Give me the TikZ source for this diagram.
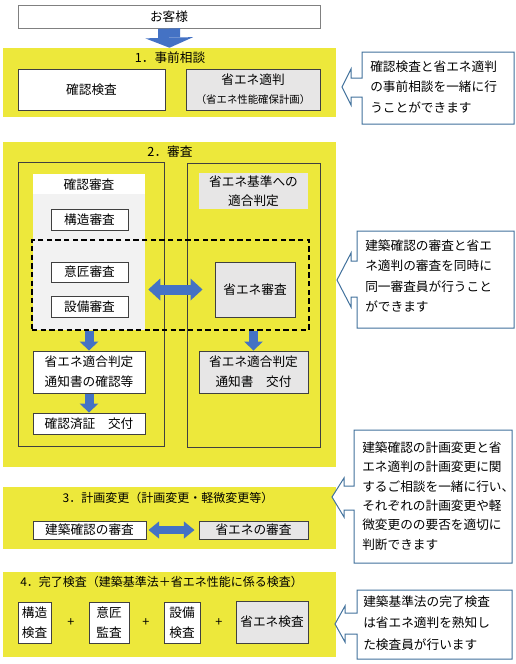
\documentclass[tikz,border=0pt]{standalone}
\usepackage{fontspec}
\setmainfont{Noto Sans CJK JP}
\usepackage{tikz}
\usetikzlibrary{arrows.meta,calc,positioning}

\definecolor{panelyellow}{RGB}{237,232,59}
\definecolor{arrowblue}{RGB}{68,114,196}
\definecolor{calloutblue}{RGB}{65,113,156}
\definecolor{boxgray}{RGB}{231,230,230}
\definecolor{zonegray}{RGB}{242,242,242}
\definecolor{edgegray}{RGB}{64,64,64}

\newcommand{\jpfont}{\fontsize{9.5}{15}\selectfont}

\tikzset{
  sz/.style 2 args={minimum width=#1*0.75pt, minimum height=#2*0.75pt},
  panel/.style={fill=panelyellow, inner sep=0pt},
  whitebox/.style={draw=edgegray, line width=0.75pt, fill=white, inner sep=0pt, align=center, font=\jpfont},
  graybox/.style={whitebox, fill=boxgray},
  title/.style={font=\jpfont, inner sep=0pt},
  note/.style={font=\fontsize{9.5}{15.4}\selectfont, align=left, inner sep=0pt, anchor=west},
  callout/.style={draw=calloutblue, line width=0.75pt, fill=white, line join=miter},
  grp/.style={draw=black, line width=1.1pt, dash pattern=on 4pt off 2.5pt, inner sep=0pt},
  downarrow/.style={draw=arrowblue, line width=6.75pt, -{Triangle[width=14.25pt, length=6.75pt, line width=0pt]}},
}

\begin{document}
\begin{tikzpicture}[x=0.75pt, y=-0.75pt]
\useasboundingbox (0,0) rectangle (516,664);

% customer
\node[whitebox, draw=gray, sz={302}{23}] (cust) at (169,16.5) {お客様};

% 1. prior consultation
\node[panel, sz={333}{69}] (p1) at (169.5,82.5) {};
\node[title] (t1) at (170,58) {1．事前相談};
\node[whitebox, sz={147}{41}] (kakunin) at (91.5,89.5) {確認検査};
\node[graybox, sz={134}{41}] (tekihan) at (253,89.5)
  {省エネ適判\\[-1pt]{\fontsize{7.8}{9}\selectfont （省エネ性能確保計画）}};
\draw[arrowblue, line width=16.5pt, -{Triangle[width=36pt, length=7.5pt, line width=0pt]}]
  (cust.south) -- (p1.north);

\draw[callout] (362,52) -- (514,52) -- (514,124) -- (362,124) -- (362,97) -- (351,97)
  -- (351,105) -- (342,87) -- (351,69) -- (351,78) -- (362,78) -- cycle;
\node[note] (c1) at (370,87) {確認検査と省エネ適判\\の事前相談を一緒に行\\うことができます};

% 2. review
\node[panel, sz={333}{325}] (p2) at (169.5,304.5) {};
\node[title] (t2) at (170,152) {2．審査};
\node[draw=edgegray, line width=0.75pt, sz={146}{284}] (lbox) at (91,304) {};
\node[draw=edgegray, line width=0.75pt, sz={133}{284}] (rbox) at (253.5,305) {};
\node[fill=white, font=\jpfont, sz={112}{19}] (khead) at (89,184.5) {確認審査};
\node[fill=zonegray, sz={112}{136}] (kzone) at (89,262) {};
\node[whitebox, sz={77}{21}] (kozo) at (89.5,219.5) {構造審査};
\node[fill=boxgray, font=\jpfont, align=center, inner sep=0pt, sz={109}{36}] (kijun) at (253.5,191)
  {省エネ基準への\\[-1pt]適合判定};
\node[grp, sz={277}{90}] (dashbox) at (170.5,285) {};
\node[whitebox, sz={77}{20}] (isho) at (89.5,272) {意匠審査};
\node[whitebox, sz={77}{21}] (setsubi) at (89.5,306.5) {設備審査};
\node[graybox, sz={80}{55}] (shoene) at (255,289.5) {省エネ審査};
\node[whitebox, sz={112}{42}] (tsuchi) at (89,372) {省エネ適合判定\\通知書の確認等};
\node[whitebox, sz={112}{21}] (kenzumi) at (89,423.5) {確認済証　交付};
\node[graybox, sz={109}{42}] (rtsuchi) at (253.5,372) {省エネ適合判定\\通知書　交付};

\draw[downarrow] (tsuchi.north |- dashbox.south) -- (tsuchi.north);
\draw[downarrow] (rtsuchi.north |- dashbox.south) -- (rtsuchi.north);
\draw[downarrow] (tsuchi.south) -- (kenzumi.north);
\draw[arrowblue, line width=7.5pt,
  {Triangle[width=16.5pt, length=9pt, line width=0pt]}-{Triangle[width=16.5pt, length=9pt, line width=0pt]}]
  ($(kzone.east |- shoene.west)+(3,0)$) -- ($(shoene.west)+(-12,0)$);

\draw[callout] (357,231) -- (514,231) -- (514,328) -- (357,328) -- (357,297) -- (351,297)
  -- (351,307) -- (337,280) -- (351,253) -- (351,261) -- (357,261) -- cycle;
\node[note] (c2) at (365,276) {建築確認の審査と省エ\\ネ適判の審査を同時に\\同一審査員が行うこと\\ができます};

% 3. plan change
\node[panel, sz={333}{62}] (p3) at (169.5,518) {};
\node[title, font=\fontsize{9}{12}\selectfont] (t3) at (168,498) {3．計画変更（計画変更・軽微変更等）};
\node[whitebox, sz={113}{18}] (kakunin3) at (89.5,530) {建築確認の審査};
\node[graybox, sz={109}{18}] (shoene3) at (253.5,530) {省エネの審査};
\draw[arrowblue, line width=5.5pt,
  {Triangle[width=13pt, length=8pt, line width=0pt]}-{Triangle[width=13pt, length=8pt, line width=0pt]}]
  ($(kakunin3.east)+(2,0)$) -- ($(shoene3.west)+(-4,0)$);

\draw[callout] (354,430) -- (512,430) -- (512,563) -- (354,563) -- (354,510) -- (344,510)
  -- (344,517) -- (332,497) -- (344,478) -- (344,486) -- (354,486) -- cycle;
\node[note, font=\fontsize{9.5}{14.6}\selectfont] (c3) at (362,496)
  {建築確認の計画変更と省\\エネ適判の計画変更に関\\するご相談を一緒に行い、\\それぞれの計画変更や軽\\微変更のの要否を適切に\\判断できます};

% 4. completion inspection
\node[panel, sz={333}{85}] (p4) at (169.5,614.5) {};
\node[title, font=\fontsize{9}{12}\selectfont, anchor=west] (t4) at (20,582)
  {4．完了検査（建築基準法＋省エネ性能に係る検査）};
\node[whitebox, sz={33}{41}] (kozo4) at (34.5,622.5) {構造\\検査};
\node[title] (plus1) at (71,623) {+};
\node[whitebox, sz={40}{41}] (isho4) at (109,622.5) {意匠\\監査};
\node[title] (plus2) at (146,623) {+};
\node[whitebox, sz={36}{41}] (setsubi4) at (182,622.5) {設備\\検査};
\node[title] (plus3) at (219,623) {+};
\node[graybox, sz={72}{42}] (shoene4) at (272,622) {省エネ検査};

\draw[callout] (357,590) -- (512,590) -- (512,659) -- (357,659) -- (357,634) -- (345,634)
  -- (345,642) -- (335,624) -- (345,606) -- (345,613) -- (357,613) -- cycle;
\node[note, font=\fontsize{9.5}{16}\selectfont] (c4) at (363,623) {建築基準法の完了検査\\は省エネ適判を熟知し\\た検査員が行います};
\end{tikzpicture}
\end{document}
